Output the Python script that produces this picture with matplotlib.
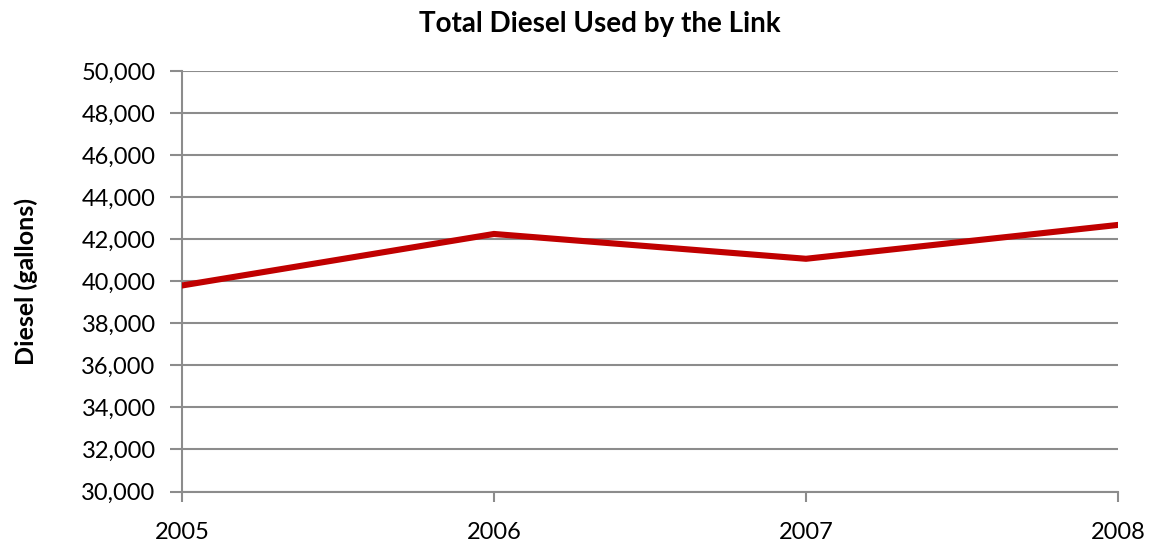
import matplotlib
matplotlib.use("Agg")
import matplotlib.pyplot as plt
from matplotlib.ticker import FuncFormatter

# yearly diesel consumption (gallons)
years = [2005, 2006, 2007, 2008]
diesel = [39800, 42250, 41070, 42680]

y_ticks = list(range(30000, 50001, 2000))

plt.rcParams['font.family'] = ['Lato', 'DejaVu Sans']

grid_color = '#8c8c8c'

fig = plt.figure(figsize=(11.51, 5.43), dpi=100)
ax = fig.add_axes([0.1581, 0.0948, 0.8132, 0.7744])

ax.plot(years, diesel, color='#c00000', linewidth=4.4, solid_capstyle='round',
        solid_joinstyle='miter', zorder=3)

ax.set_xlim(years[0], years[-1])
ax.set_ylim(y_ticks[0], y_ticks[-1])
ax.set_xticks(years)
ax.set_yticks(y_ticks)
ax.yaxis.set_major_formatter(FuncFormatter(lambda v, p: f"{int(v):,}"))

ax.grid(axis='y', color=grid_color, linewidth=1.5)
ax.set_axisbelow(True)
for side in ['top', 'right']:
    ax.spines[side].set_visible(False)
for side in ['left', 'bottom']:
    ax.spines[side].set_color(grid_color)
    ax.spines[side].set_linewidth(1.5)

ax.tick_params(axis='y', length=9, width=1.5, color=grid_color, labelsize=17, pad=10)
ax.tick_params(axis='x', length=7, width=1.5, color=grid_color, labelsize=17, pad=15)

fig.text(600 / 1151, 1 - 24 / 543, "Total Diesel Used by the Link", fontsize=20,
         fontweight='bold', ha='center', va='center')
ax.set_ylabel("Diesel (gallons)", fontsize=18, fontweight='bold', labelpad=31)

fig.savefig("out.png", dpi=100)
